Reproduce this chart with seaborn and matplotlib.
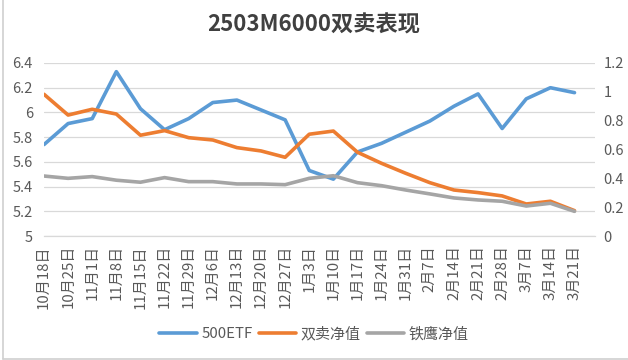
import pandas as pd
import numpy as np
import matplotlib.pyplot as plt
import seaborn as sns
from matplotlib.lines import Line2D

# weekly dates (category axis)
dates = ["10月18日", "10月25日", "11月1日", "11月8日", "11月15日", "11月22日",
         "11月29日", "12月6日", "12月13日", "12月20日", "12月27日", "1月3日",
         "1月10日", "1月17日", "1月24日", "1月31日", "2月7日", "2月14日",
         "2月21日", "2月28日", "3月7日", "3月14日", "3月21日"]

# left axis
etf500 = [5.74, 5.91, 5.95, 6.33, 6.03, 5.86, 5.95, 6.08, 6.10, 6.02, 5.94, 5.53,
          5.46, 5.68, 5.75, 5.84, 5.93, 6.05, 6.15, 5.87, 6.11, 6.20, 6.16]

# right axis
double_sell = [0.983, 0.839, 0.879, 0.846, 0.699, 0.731, 0.682, 0.666, 0.613, 0.590,
               0.546, 0.706, 0.728, 0.581, 0.504, 0.435, 0.370, 0.319, 0.301, 0.278,
               0.222, 0.241, 0.176]
iron_condor = [0.416, 0.400, 0.412, 0.387, 0.373, 0.405, 0.377, 0.377, 0.361, 0.361,
               0.356, 0.400, 0.418, 0.370, 0.349, 0.319, 0.292, 0.264, 0.250, 0.241,
               0.208, 0.227, 0.171]

left_ticks = [5, 5.2, 5.4, 5.6, 5.8, 6, 6.2, 6.4]
right_ticks = [0, 0.2, 0.4, 0.6, 0.8, 1, 1.2]

df = pd.DataFrame({
    "pos": np.arange(len(dates)),
    "500ETF": etf500,
    "双卖净值": double_sell,
    "铁鹰净值": iron_condor,
})

sns.set_style("white")
plt.rcParams["font.family"] = ["Noto Sans CJK SC", "DejaVu Sans"]

BLUE = "#5B9BD5"
ORANGE = "#ED7D31"
GRAY = "#A5A5A5"
TXT = "#595959"
GRID = "#D9D9D9"

fig = plt.figure(figsize=(6.28, 3.6), dpi=100)
ax = fig.add_axes([44 / 628, 1 - 236 / 360, (595 - 44) / 628, (236 - 63) / 360])
ax2 = ax.twinx()

sns.lineplot(data=df, x="pos", y="500ETF", ax=ax, color=BLUE, lw=2.6,
             label="500ETF", legend=False)
sns.lineplot(data=df, x="pos", y="双卖净值", ax=ax2, color=ORANGE, lw=2.6,
             label="双卖净值", legend=False)
sns.lineplot(data=df, x="pos", y="铁鹰净值", ax=ax2, color=GRAY, lw=2.6,
             label="铁鹰净值", legend=False)

ax.set_xlim(0, 22.85)
ax.set_ylim(5, 6.4)
ax2.set_ylim(0, 1.2)

ax.set_yticks(left_ticks)
ax.set_yticklabels(["5", "5.2", "5.4", "5.6", "5.8", "6", "6.2", "6.4"])
ax2.set_yticks(right_ticks)
ax2.set_yticklabels(["0", "0.2", "0.4", "0.6", "0.8", "1", "1.2"])

ax.set_xticks(df["pos"])
ax.set_xticklabels(dates, rotation=90, va="top", ha="center")

ax.grid(axis="y", color=GRID, lw=0.9)
ax.set_axisbelow(True)
ax.set_xlabel("")
ax.set_ylabel("")
ax2.set_ylabel("")

for a in (ax, ax2):
    for s in ["top", "left", "right", "bottom"]:
        a.spines[s].set_visible(False)
ax.spines["bottom"].set_visible(True)
ax.spines["bottom"].set_color(GRID)
ax.spines["bottom"].set_linewidth(0.9)

ax.tick_params(axis="x", length=5, width=0.9, color=GRID, pad=1.5,
               labelsize=10.8, labelcolor=TXT)
ax.tick_params(axis="y", length=0, pad=8, labelsize=10.5, labelcolor=TXT)
ax2.tick_params(axis="y", length=0, pad=6, labelsize=10.5, labelcolor=TXT)

fig.suptitle("2503M6000双卖表现", x=0.5, y=1 - 25 / 360, va="center",
             fontsize=16, fontweight="bold", color="#404040")

h1, l1 = ax.get_legend_handles_labels()
h2, l2 = ax2.get_legend_handles_labels()
fig.legend(h1 + h2, l1 + l2, loc="center", bbox_to_anchor=(0.5, 1 - 334 / 360),
           ncol=3, frameon=False, fontsize=10.8, labelcolor=TXT,
           handlelength=2.5, handletextpad=0.3, columnspacing=0.4)

# outer chart frame (left and bottom edges visible in the screenshot)
fig.add_artist(Line2D([2.5 / 628, 2.5 / 628], [1 / 360, 1], color="#D0D0D0", lw=1.2))
fig.add_artist(Line2D([2.5 / 628, 1], [1.5 / 360, 1.5 / 360], color="#D0D0D0", lw=1.2))

fig.savefig("out.png", dpi=100)
